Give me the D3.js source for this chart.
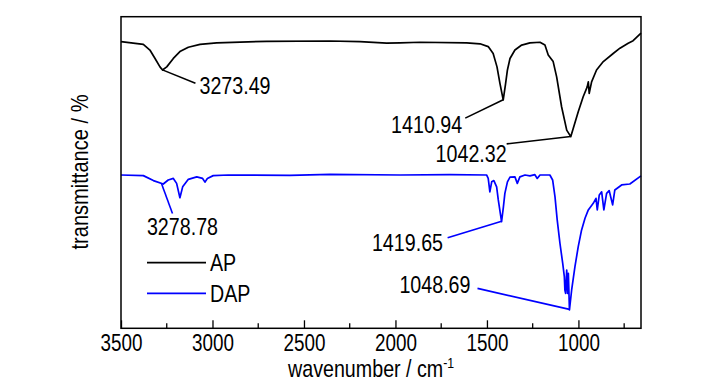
<!DOCTYPE html>
<html>
<head>
<meta charset="utf-8">
<script src="https://cdn.jsdelivr.net/npm/d3@7"></script>
<style>
body{margin:0;background:#fff;}
svg{display:block;}
</style>
</head>
<body>
<svg id="chart" width="727" height="390"></svg>
<script>
// wavenumber (cm-1) / transmittance (arb. %)
var apWave=[3500,3378,3342,3314,3287,3273,3250,3214,3178,3132,3068,2977,2704,2358,2194,2048,1975,1866,1611,1538,1493,1466,1445,1429,1411,1399,1388,1374,1347,1310,1265,1210,1183,1165,1138,1119,1092,1064,1042,1028,1001,974,952,946,941,928,901,864,810,773,728,701,658];
var apTrans=[92.0,91.1,89.3,86.6,83.9,82.9,83.9,86.6,88.8,90.2,91.1,91.6,92.1,92.2,92.0,91.5,91.6,91.8,91.6,91.3,90.4,88.2,83.9,78.6,73.3,78.1,82.9,86.6,89.3,90.9,91.6,91.8,90.9,87.7,85.6,80.7,71.1,63.6,61.5,64.2,69.5,74.3,77.5,79.1,75.4,79.1,82.9,85.6,88.2,89.9,91.5,92.3,94.7];

var dapWave=[3500,3378,3323,3269,3242,3214,3196,3178,3163,3132,3086,3054,3041,3028,2996,2914,2577,2358,1975,1702,1502,1493,1484,1474,1462,1447,1438,1420,1410,1402,1388,1374,1347,1334,1320,1292,1265,1238,1225,1210,1156,1141,1128,1116,1101,1086,1077,1074,1070,1064,1059,1055,1049,1037,1019,1001,983,964,946,919,904,897,886,873,861,846,832,813,801,764,719,658];
var dapTrans=[49.2,49.0,47.4,46.3,47.6,48.1,46.5,41.9,45.4,47.8,48.6,48.1,46.9,48.1,49.0,49.2,49.1,49.4,49.2,49.3,49.2,48.1,43.8,47.0,47.4,45.4,41.2,34.2,39.0,43.3,47.0,48.5,48.6,46.5,48.6,49.2,48.9,49.3,48.1,49.2,49.2,47.6,42.2,34.8,27.3,20.9,16.6,12.3,11.2,18.7,11.2,17.6,5.9,12.3,19.8,26.2,31.5,35.3,38.0,40.1,41.7,38.0,42.8,43.8,38.0,43.3,44.2,39.6,44.4,46.0,46.3,48.9];

var seriesNames=['AP','DAP'];
var apPeaks=[3273.49,1410.94,1042.32];
var dapPeaks=[3278.78,1419.65,1048.69];
var xTicks=[3500,3000,2500,2000,1500,1000];

var plotL=121, plotR=641, plotT=16.7, plotB=328.3;
var NARROW="'Liberation Sans Narrow','Arial Narrow',Arial,'Liberation Sans',sans-serif";

var svg=d3.select('#chart');

// check whether a narrow face exists, otherwise squeeze the normal one
var probe=svg.append('text').style('font-family',NARROW).style('font-size','100px').text('1419.65');
var w1=probe.node().getComputedTextLength();
probe.style('font-family',"'Liberation Sans',Arial,sans-serif");
var w2=probe.node().getComputedTextLength();
probe.remove();
var squeeze=(w1/w2<0.9)?1:0.82;

var x=d3.scaleLinear().domain([3500,658]).range([plotL,plotR]);
var y=d3.scaleLinear().domain([0,100]).range([plotB,plotT]);

function zip(a,b){return a.map(function(v,i){return [v,b[i]];});}
var apData=zip(apWave,apTrans);
var dapData=zip(dapWave,dapTrans);

function valueAt(data,w) {
    for (var i=0;i<data.length-1;i++) {
        var a=data[i], b=data[i+1];
        if (w<=a[0] && w>=b[0]) {
            var f=(a[0]-w)/(a[0]-b[0]);
            return a[1]+f*(b[1]-a[1]);
        }
    }
    return data[data.length-1][1];
}

function addText(g,px,py,str,anchor,size,rot) {
    var tr='translate('+px+','+py+')';
    if (rot) tr+=' rotate('+rot+')';
    if (squeeze!=1) tr+=' scale('+squeeze+',1)';
    return g.append('text')
        .attr('transform',tr)
        .attr('text-anchor',anchor)
        .style('font-family',NARROW)
        .style('font-size',size+'px')
        .style('fill','#000')
        .text(str);
}

var line=d3.line().x(function(d){return x(d[0]);}).y(function(d){return y(d[1]);});

svg.append('path').attr('d',line(apData))
    .attr('fill','none').attr('stroke','#000').attr('stroke-width',1.7).attr('stroke-linejoin','round');
svg.append('path').attr('d',line(dapData))
    .attr('fill','none').attr('stroke','#0000ff').attr('stroke-width',1.7).attr('stroke-linejoin','round');

// frame
svg.append('rect').attr('x',plotL).attr('y',plotT).attr('width',plotR-plotL).attr('height',plotB-plotT)
    .attr('fill','none').attr('stroke','#000').attr('stroke-width',1.5);

// bottom axis, ticks pointing inward
var minor=d3.range(3250,658,-500);
svg.append('g').attr('transform','translate(0,'+plotB+')')
    .selectAll('line.minor').data(minor).enter().append('line')
    .attr('x1',function(d){return x(d);}).attr('x2',function(d){return x(d);})
    .attr('y1',0).attr('y2',-5).attr('stroke','#000').attr('stroke-width',1.3);

var xAxis=d3.axisBottom(x).tickValues(xTicks).tickFormat(d3.format('d'))
    .tickSizeInner(-8).tickSizeOuter(0).tickPadding(6.5);
var gx=svg.append('g').attr('transform','translate(0,'+plotB+')').call(xAxis);
gx.select('.domain').remove();
gx.selectAll('.tick line').attr('stroke','#000').attr('stroke-width',1.3);
gx.selectAll('.tick text')
    .style('font-family',NARROW).style('font-size','23px').attr('fill','#000')
    .attr('transform',squeeze!=1?'scale('+squeeze+',1)':null);

// axis titles
var xt=addText(svg,288,377,'wavenumber / cm','start',24);
xt.append('tspan').attr('dy',-9).style('font-size','15px').text('-1');
addText(svg,88,172,'transmittance / %','middle',24.5,-90);

// peak labels
var apLayout=[{dx:33,dy:13.3,tx:4,ty:11,anchor:'start'},{dx:-38,dy:18.3,tx:-3,ty:15,anchor:'end'},{dx:-64,dy:7.3,tx:0,ty:17.7,anchor:'end'}];
var dapLayout=[{dx:11,dy:30,tx:10,ty:21.7,anchor:'middle'},{dx:-54,dy:16.6,tx:-4.6,ty:12.7,anchor:'end'},{dx:-92,dy:-21,tx:-7,ty:5,anchor:'end'}];

function drawPeaks(peaks,data,layout,color) {
    peaks.forEach(function(w,i){
        var L=layout[i];
        var px=x(w), py=y(valueAt(data,w));
        svg.append('line').attr('x1',px).attr('y1',py).attr('x2',px+L.dx).attr('y2',py+L.dy)
            .attr('stroke',color).attr('stroke-width',1.6);
        addText(svg,px+L.dx+L.tx,py+L.dy+L.ty,d3.format('.2f')(w),L.anchor,24);
    });
}
drawPeaks(apPeaks,apData,apLayout,'#000');
drawPeaks(dapPeaks,dapData,dapLayout,'#0000ff');

// legend
var legColors=['#000','#0000ff'];
seriesNames.forEach(function(n,i){
    var ly=262.7+i*30.6;
    svg.append('line').attr('x1',147).attr('x2',206).attr('y1',ly).attr('y2',ly)
        .attr('stroke',legColors[i]).attr('stroke-width',1.7);
    addText(svg,210,ly+8.5,n,'start',24);
});
</script>
</body>
</html>
